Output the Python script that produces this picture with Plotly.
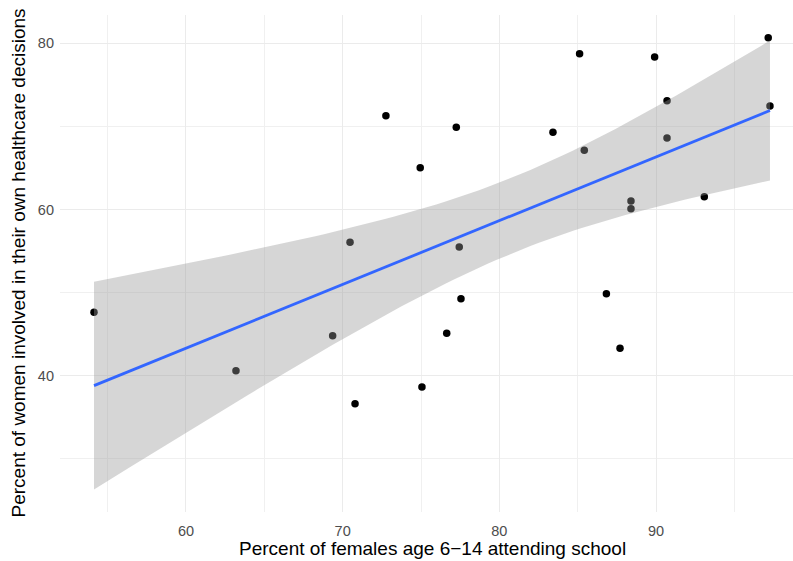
import numpy as np
import plotly.graph_objects as go

# Data
school_pct = [54.13, 63.19, 70.47, 77.44, 77.55, 69.36, 76.64, 75.06, 70.79,
              72.76, 77.25, 74.95, 85.12, 89.91, 97.16, 90.70, 97.27, 83.42,
              85.42, 90.70, 88.40, 88.40, 93.08, 86.83, 87.70]
health_pct = [47.63, 40.60, 56.05, 55.49, 49.27, 44.81, 45.10, 38.64, 36.63,
              71.29, 69.89, 65.03, 78.75, 78.35, 80.67, 73.09, 72.45, 69.29,
              67.12, 68.60, 61.02, 60.10, 61.54, 49.87, 43.30]

x_ticks = [60, 70, 80, 90]
y_ticks = [40, 60, 80]

x = np.array(school_pct)
y = np.array(health_pct)
n = len(x)
b1, b0 = np.polyfit(x, y, 1)
resid = y - (b0 + b1 * x)
s = np.sqrt(np.sum(resid ** 2) / (n - 2))
xbar = x.mean()
sxx = np.sum((x - xbar) ** 2)
t_crit = 2.0687  # 95% t quantile, df = 23
xs = np.linspace(x.min(), x.max(), 80)
fit = b0 + b1 * xs
se = s * np.sqrt(1 / n + (xs - xbar) ** 2 / sxx)
lo = fit - t_crit * se
hi = fit + t_crit * se

FONT = "Liberation Sans, Arial, sans-serif"

fig = go.Figure()
fig.add_trace(go.Scatter(x=school_pct, y=health_pct, mode="markers",
                         marker=dict(color="black", size=7.5, line=dict(width=0)),
                         showlegend=False, hoverinfo="x+y"))
fig.add_trace(go.Scatter(x=np.concatenate([xs, xs[::-1]]),
                         y=np.concatenate([hi, lo[::-1]]),
                         fill="toself", fillcolor="rgba(153,153,153,0.4)",
                         line=dict(width=0), mode="lines",
                         showlegend=False, hoverinfo="skip"))
fig.add_trace(go.Scatter(x=xs, y=fit, mode="lines",
                         line=dict(color="#3366FF", width=2.8),
                         showlegend=False, hoverinfo="skip"))

fig.update_layout(
    width=793, height=561,
    margin=dict(l=60, r=0, t=15, b=49),
    paper_bgcolor="white", plot_bgcolor="white",
    font=dict(family=FONT),
    xaxis=dict(range=[51.96, 98.74], tickvals=x_ticks, ticktext=[str(v) for v in x_ticks],
               showgrid=True, gridcolor="#ebebeb", gridwidth=1.2,
               minor=dict(dtick=5, tick0=55, showgrid=True, gridcolor="#f0f0f0", gridwidth=0.7),
               zeroline=False, showline=False, ticks="",
               tickfont=dict(size=14.5, color="#4d4d4d"),
               ticklabelstandoff=8, automargin=False),
    yaxis=dict(range=[23.6, 83.4], tickvals=y_ticks, ticktext=[str(v) for v in y_ticks],
               showgrid=True, gridcolor="#ebebeb", gridwidth=1.2,
               minor=dict(dtick=10, tick0=30, showgrid=True, gridcolor="#f0f0f0", gridwidth=0.7),
               zeroline=False, showline=False, ticks="",
               tickfont=dict(size=14.5, color="#4d4d4d"),
               ticklabelstandoff=5, automargin=False),
    annotations=[
        dict(text="Percent of females age 6\u221214 attending school",
             xref="paper", yref="paper", x=(432 - 60) / 733, y=0,
             yshift=-36, xanchor="center", yanchor="middle",
             showarrow=False, font=dict(size=19, color="black", family=FONT)),
        dict(text="Percent of women involved in their own healthcare decisions",
             xref="paper", yref="paper", x=0, y=0.5, xshift=-42, textangle=-90,
             xanchor="center", yanchor="middle",
             showarrow=False, font=dict(size=19, color="black", family=FONT)),
    ],
)

fig.write_html("out.html")
